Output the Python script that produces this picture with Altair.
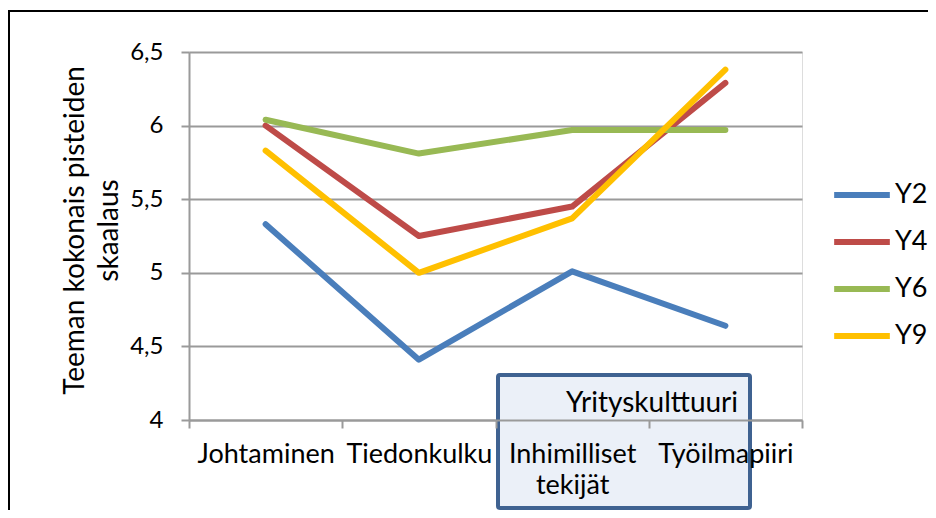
import altair as alt
import pandas as pd

categories = ["Johtaminen", "Tiedonkulku", "Inhimilliset tekijät", "Työilmapiiri"]
series = ["Y2", "Y4", "Y6", "Y9"]
colors = ["#4A7EBB", "#BE4B48", "#98B954", "#FFC000"]
y2 = [5.33, 4.41, 5.01, 4.64]
y4 = [6.00, 5.25, 5.45, 6.29]
y6 = [6.04, 5.81, 5.97, 5.97]
y9 = [5.83, 5.00, 5.37, 6.38]
y_ticks = [4, 4.5, 5, 5.5, 6, 6.5]
y_title = ["Teeman kokonais pisteiden", "skaalaus"]
box_label = "Yrityskulttuuri"

values = {"Y2": y2, "Y4": y4, "Y6": y6, "Y9": y9}
rows = []
for s in series:
    for c, v in zip(categories, values[s]):
        rows.append({"teema": c, "sarja": s, "arvo": v})
df = pd.DataFrame(rows)

FONT = "Lato"
GRID = "#9A9A9A"

lines = alt.Chart(df).mark_line(strokeWidth=6, strokeCap="round", strokeJoin="round").encode(
    x=alt.X(
        "teema:N",
        sort=categories,
        scale=alt.Scale(type="band", paddingInner=0, paddingOuter=0),
        axis=alt.Axis(
            title=None,
            labelAngle=0,
            labelFont=FONT,
            labelFontSize=27,
            labelColor="black",
            labelPadding=13,
            labelLineHeight=31,
            labelBaseline="top",
            labelExpr="datum.label == 'Inhimilliset tekijät' ? ['Inhimilliset', 'tekijät'] : datum.label",
            tickBand="extent",
            tickSize=8,
            tickColor=GRID,
            tickWidth=2,
            domainColor=GRID,
            domainWidth=2,
            grid=False,
            zindex=1,
            labelOverlap=False,
            labelLimit=400,
        ),
    ),
    y=alt.Y(
        "arvo:Q",
        scale=alt.Scale(domain=[4, 6.5], nice=False, zero=False),
        axis=alt.Axis(
            values=y_ticks,
            format="~g",
            labelExpr="replace(datum.label, '.', ',')",
            labelFont=FONT,
            labelFontSize=24,
            labelColor="black",
            labelPadding=18,
            tickSize=8,
            tickColor=GRID,
            tickWidth=2,
            domainColor=GRID,
            domainWidth=2,
            gridColor=GRID,
            gridWidth=2,
            title=y_title,
            titleFont=FONT,
            titleFontSize=28,
            titleFontWeight="normal",
            titleColor="black",
            titleLineHeight=34,
            titleAngle=-90,
            titleAlign="center",
            titleBaseline="alphabetic",
            titleX=-106,
            titleY=178,
        ),
    ),
    color=alt.Color(
        "sarja:N",
        scale=alt.Scale(domain=series, range=colors),
        legend=alt.Legend(
            title=None,
            orient="none",
            legendX=642,
            legendY=112,
            symbolType="stroke",
            symbolSize=3100,
            symbolStrokeWidth=6,
            labelFont=FONT,
            labelFontSize=27,
            labelColor="black",
            labelOffset=2,
            rowPadding=3,
            padding=0,
        ),
    ),
)

one = pd.DataFrame({"a": [0]})

frame = alt.Chart(one).mark_rect(fillOpacity=0, stroke="black", strokeWidth=2).encode(
    x=alt.value(-180), x2=alt.value(760), y=alt.value(-41), y2=alt.value(480)
)

box = alt.Chart(one).mark_rect(fill="#EBF0F8", stroke="#3F6291", strokeWidth=4, cornerRadius=2).encode(
    x=alt.value(309), x2=alt.value(561), y=alt.value(323), y2=alt.value(456)
)

box_text = alt.Chart(one).mark_text(
    text=box_label, font=FONT, fontSize=28, color="black", align="center", baseline="alphabetic"
).encode(x=alt.value(463), y=alt.value(360))

chart = alt.layer(frame, box, lines, box_text).properties(
    width=613,
    height=368,
    autosize=alt.AutoSizeParams(type="none"),
    padding={"left": 181, "top": 44, "right": 126, "bottom": 90},
).configure_view(stroke=None).configure(background="white")

chart.save("out.html", embed_options={"renderer": "svg", "actions": False})
